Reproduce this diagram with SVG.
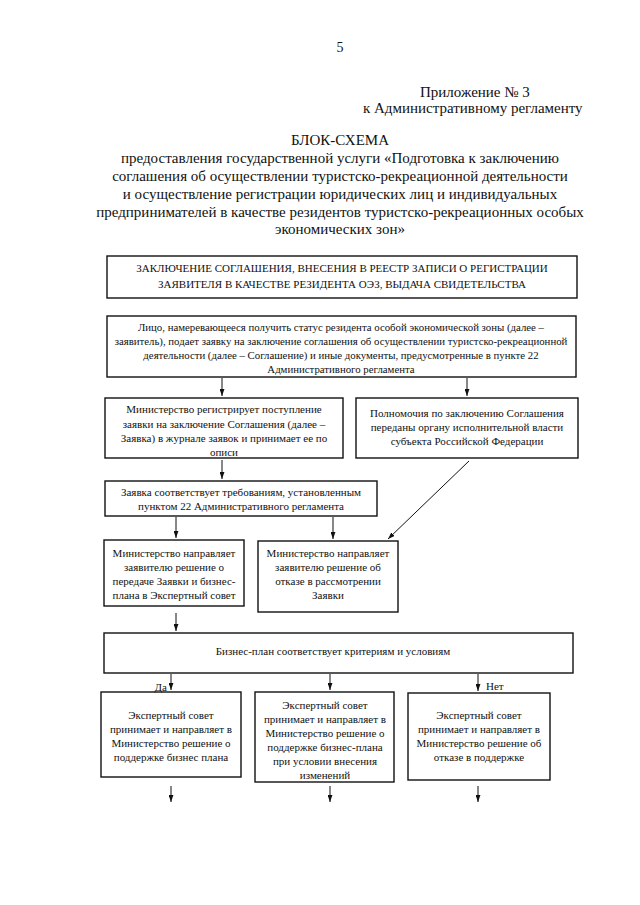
<svg xmlns="http://www.w3.org/2000/svg" width="640" height="905" viewBox="0 0 640 905">
<defs>
<style>
text{font-family:"Liberation Serif","Times New Roman",serif;fill:#111;}
.h{font-size:15px;}
.t{font-size:15px;text-anchor:middle;}
.b{font-size:11px;text-anchor:middle;}
.b2{font-size:10.8px;text-anchor:middle;}
.u{font-size:11px;text-anchor:middle;}
.box{fill:#fff;stroke:#111;stroke-width:1.4;}
.c{stroke:#111;stroke-width:1;fill:none;}
</style>
<marker id="ah" viewBox="0 0 10 7" refX="10" refY="3.5" markerWidth="7" markerHeight="5" orient="auto" markerUnits="userSpaceOnUse">
<path d="M0,0 L10,3.5 L0,7 z" fill="#111"/>
</marker>
</defs>
<rect width="640" height="905" fill="#fff"/>

<g id="header">
<text x="340" y="52" style="font-size:14px;text-anchor:middle">5</text>
<text class="h" x="420" y="97">Приложение № 3</text>
<text class="h" x="363" y="113">к Административному регламенту</text>
<text class="t" x="340" y="145">БЛОК-СХЕМА</text>
<text class="t" x="340" y="163">предоставления государственной услуги «Подготовка к заключению</text>
<text class="t" x="340" y="181">соглашения об осуществлении туристско-рекреационной деятельности</text>
<text class="t" x="340" y="199">и осуществление регистрации юридических лиц и индивидуальных</text>
<text class="t" x="340" y="217">предпринимателей в качестве резидентов туристско-рекреационных особых</text>
<text class="t" x="340" y="234">экономических зон»</text>
</g>

<g id="n1">
<rect class="box" x="107" y="256" width="470" height="42"/>
<text class="u" x="342" y="272">ЗАКЛЮЧЕНИЕ СОГЛАШЕНИЯ, ВНЕСЕНИЯ В РЕЕСТР ЗАПИСИ О РЕГИСТРАЦИИ</text>
<text class="u" x="342" y="288">ЗАЯВИТЕЛЯ В КАЧЕСТВЕ РЕЗИДЕНТА ОЭЗ, ВЫДАЧА СВИДЕТЕЛЬСТВА</text>
</g>

<g id="n2">
<rect class="box" x="107" y="316" width="469" height="61"/>
<text class="b2" x="341" y="331">Лицо, намеревающееся получить статус резидента особой экономической зоны (далее –</text>
<text class="b2" x="341" y="345">заявитель), подает заявку на заключение соглашения об осуществлении туристско-рекреационной</text>
<text class="b2" x="341" y="359">деятельности (далее – Соглашение) и иные документы, предусмотренные в пункте 22</text>
<text class="b2" x="341" y="373">Административного регламента</text>
</g>

<g id="n3">
<rect class="box" x="105" y="398" width="238" height="60"/>
<text class="b" x="224" y="413">Министерство регистрирует поступление</text>
<text class="b" x="224" y="428">заявки на заключение Соглашения (далее –</text>
<text class="b" x="224" y="442">Заявка) в журнале заявок и принимает ее по</text>
<text class="b" x="224" y="456">описи</text>
</g>

<g id="n4">
<rect class="box" x="356" y="398" width="222" height="60"/>
<text class="b" x="467" y="417">Полномочия по заключению Соглашения</text>
<text class="b" x="467" y="431">переданы органу исполнительной власти</text>
<text class="b" x="467" y="445">субъекта Российской Федерации</text>
</g>

<g id="n5">
<rect class="box" x="105" y="481" width="272" height="35"/>
<text class="b" x="241" y="496">Заявка соответствует требованиям, установленным</text>
<text class="b" x="241" y="510">пунктом 22 Административного регламента</text>
</g>

<g id="n6">
<rect class="box" x="104" y="540" width="140" height="66"/>
<text class="b" x="174" y="557">Министерство направляет</text>
<text class="b" x="174" y="571">заявителю решение о</text>
<text class="b" x="174" y="585">передаче Заявки и бизнес-</text>
<text class="b" x="174" y="599">плана в Экспертный совет</text>
</g>

<g id="n7">
<rect class="box" x="258" y="541" width="140" height="71"/>
<text class="b" x="328" y="557">Министерство направляет</text>
<text class="b" x="328" y="571">заявителю решение об</text>
<text class="b" x="328" y="585">отказе в рассмотрении</text>
<text class="b" x="328" y="599">Заявки</text>
</g>

<g id="n8">
<rect class="box" x="104" y="633" width="469" height="40"/>
<text class="b" x="333" y="655">Бизнес-план соответствует критериям и условиям</text>
</g>

<g id="n9">
<rect class="box" x="101" y="692" width="140" height="85"/>
<text class="b" x="171" y="719">Экспертный совет</text>
<text class="b" x="171" y="733">принимает и направляет в</text>
<text class="b" x="171" y="747">Министерство решение о</text>
<text class="b" x="171" y="761">поддержке бизнес плана</text>
</g>

<g id="n10">
<rect class="box" x="255" y="692" width="139" height="90"/>
<text class="b" x="325" y="709">Экспертный совет</text>
<text class="b" x="325" y="723">принимает и направляет в</text>
<text class="b" x="325" y="737">Министерство решение о</text>
<text class="b" x="325" y="751">поддержке бизнес-плана</text>
<text class="b" x="325" y="765">при условии внесения</text>
<text class="b" x="325" y="779">изменений</text>
</g>

<g id="n11">
<rect class="box" x="408" y="693" width="142" height="87"/>
<text class="b" x="479" y="719">Экспертный совет</text>
<text class="b" x="479" y="733">принимает и направляет в</text>
<text class="b" x="479" y="747">Министерство решение об</text>
<text class="b" x="479" y="761">отказе в поддержке</text>
</g>

<g id="connectors">
<line class="c" x1="222" y1="378" x2="222" y2="396" marker-end="url(#ah)"/>
<line class="c" x1="467" y1="378" x2="467" y2="396" marker-end="url(#ah)"/>
<line class="c" x1="222" y1="460" x2="222" y2="479" marker-end="url(#ah)"/>
<line class="c" x1="469" y1="461" x2="388" y2="539" marker-end="url(#ah)"/>
<line class="c" x1="176" y1="517" x2="176" y2="538" marker-end="url(#ah)"/>
<line class="c" x1="333" y1="517" x2="333" y2="539" marker-end="url(#ah)"/>
<line class="c" x1="176" y1="613" x2="176" y2="631" marker-end="url(#ah)"/>
<line class="c" x1="171" y1="674" x2="171" y2="690" marker-end="url(#ah)"/>
<line class="c" x1="330" y1="674" x2="330" y2="690" marker-end="url(#ah)"/>
<line class="c" x1="478" y1="674" x2="478" y2="691" marker-end="url(#ah)"/>
<line class="c" x1="171" y1="786" x2="171" y2="802" marker-end="url(#ah)"/>
<line class="c" x1="330" y1="786" x2="330" y2="802" marker-end="url(#ah)"/>
<line class="c" x1="478" y1="786" x2="478" y2="802" marker-end="url(#ah)"/>
<text class="b" x="167" y="691" style="text-anchor:end">Да</text>
<text class="b" x="486" y="690" style="text-anchor:start">Нет</text>
</g>
</svg>
